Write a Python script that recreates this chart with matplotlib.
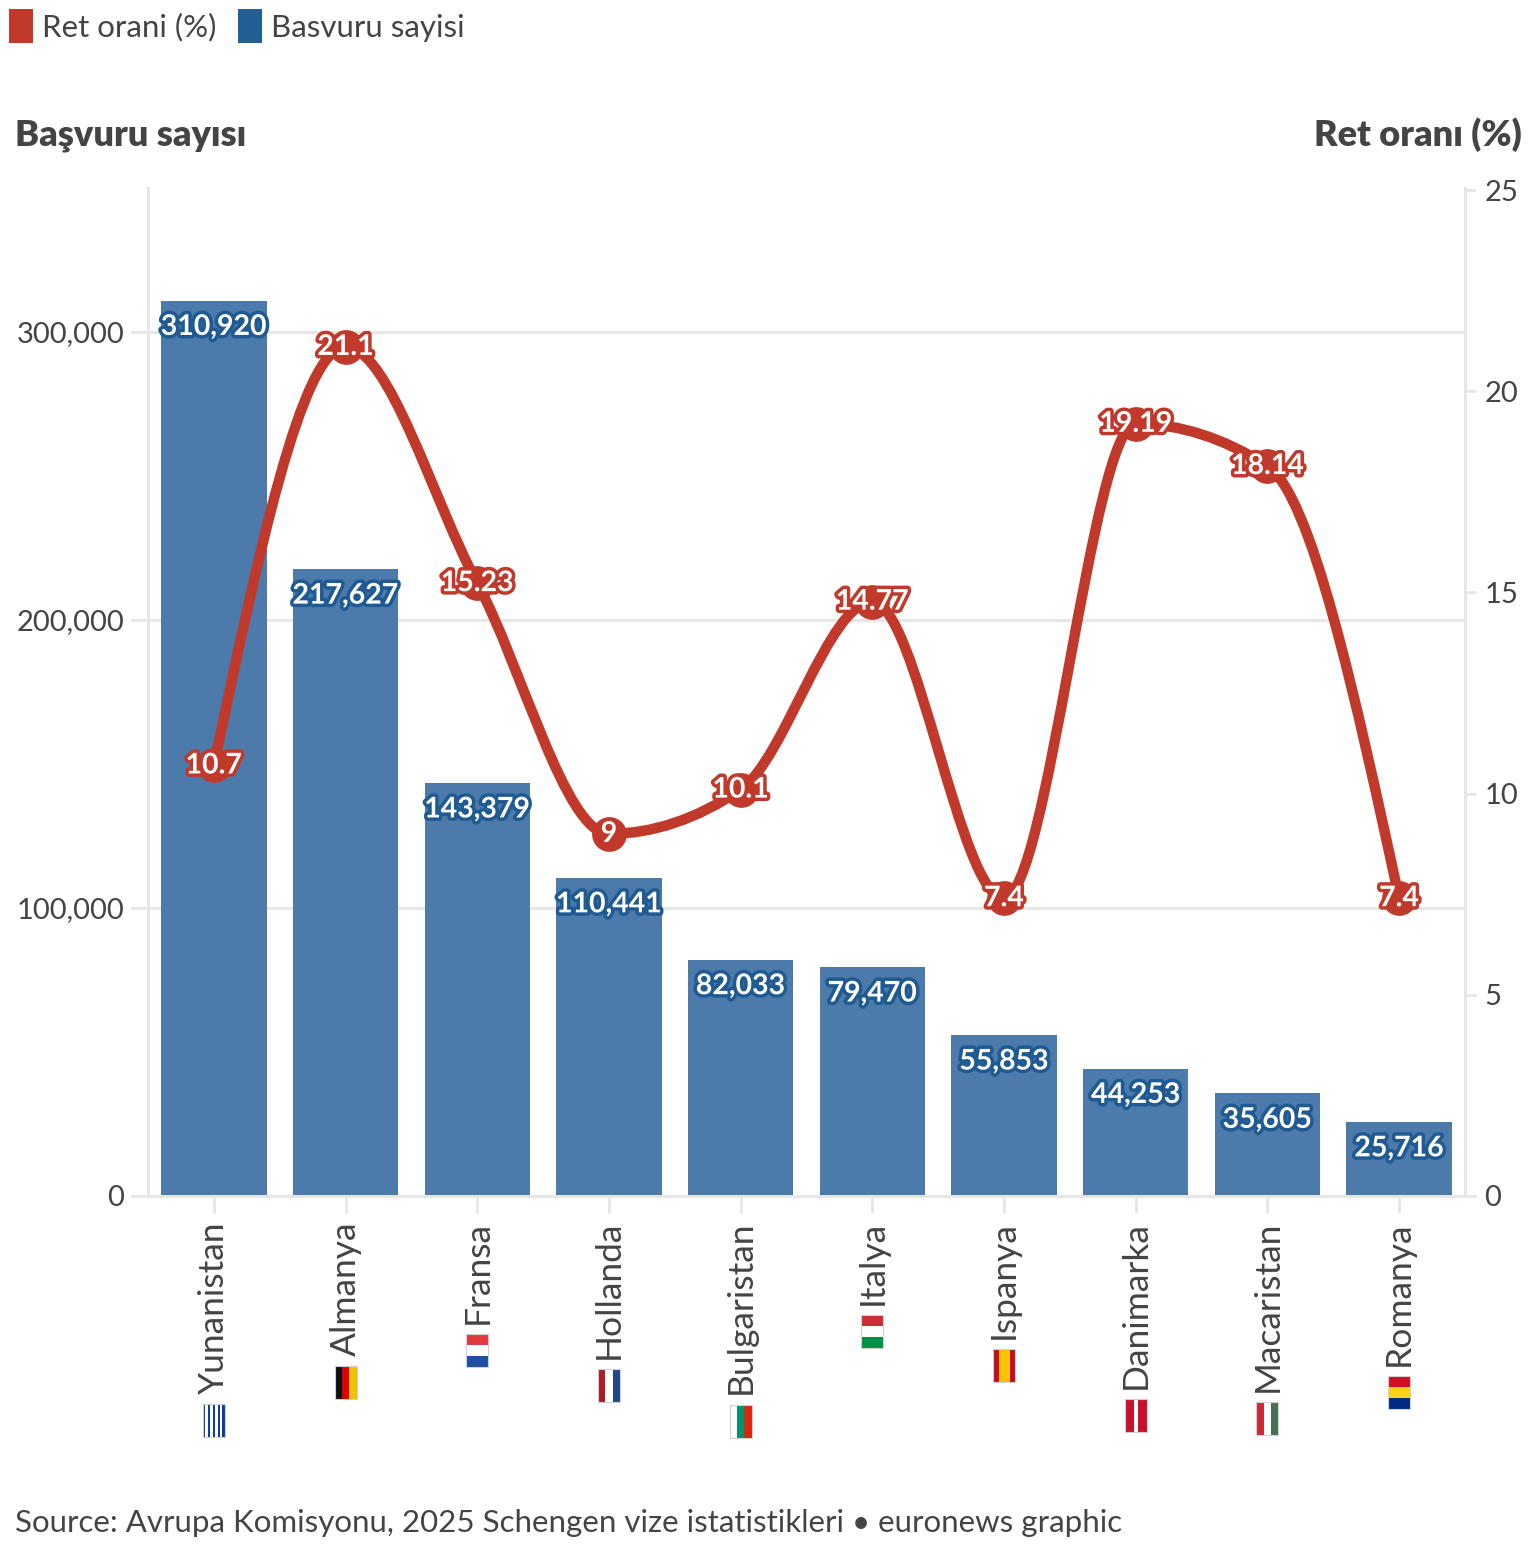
import numpy as np
import matplotlib
matplotlib.use("Agg")
import matplotlib.pyplot as plt
import matplotlib.patheffects as pe
from matplotlib.path import Path
from matplotlib.patches import PathPatch, Patch, Rectangle
from matplotlib.ticker import FuncFormatter, FixedLocator
from matplotlib.transforms import IdentityTransform

plt.rcParams['font.family'] = ['Lato', 'DejaVu Sans']

countries = ["Yunanistan", "Almanya", "Fransa", "Hollanda", "Bulgaristan",
             "Italya", "Ispanya", "Danimarka", "Macaristan", "Romanya"]
applications = [310920, 217627, 143379, 110441, 82033, 79470, 55853, 44253, 35605, 25716]
refusal_rate = [10.7, 21.1, 15.23, 9, 10.1, 14.77, 7.4, 19.19, 18.14, 7.4]

# flag stripes as seen in the rotated labels: ('v', cols left->right) or ('h', rows top->bottom)
flags = [
    ('v', ['#0d3b9e', 'white'] * 4 + ['#0d3b9e']),
    ('v', ['#111111', '#dd0000', '#f2c200']),
    ('h', ['#e0393e', 'white', '#1f4fa0']),
    ('v', ['#ad1d28', 'white', '#21468b']),
    ('v', ['white', '#00966e', '#d62612']),
    ('h', ['#ce2b37', 'white', '#009246']),
    ('v', ['#c60b1e', '#ffc400', '#ffc400', '#c60b1e']),
    ('v', ['#c8102e', '#c8102e', 'white', '#c8102e', '#c8102e']),
    ('v', ['#ce2939', 'white', '#477050']),
    ('h', ['#ce1126', '#fcd116', '#002b7f']),
]

bar_color = '#4c7aaa'
bar_edge = '#1f5a92'
red = '#c0392b'
grid_c = '#e6e6e6'
text_c = '#444444'

W, H = 1534, 1554
fig = plt.figure(figsize=(W / 100, H / 100), dpi=100)
ax = fig.add_axes([148 / W, 1 - 1196 / H, (1465 - 148) / W, (1196 - 188) / H])
ax2 = ax.twinx()

x = np.arange(len(countries))
ax.bar(x, applications, width=0.8, color=bar_color, zorder=2)
ax.set_xlim(-0.5, len(countries) - 0.5)
ax.set_ylim(0, 350000)
ax.yaxis.set_major_locator(FixedLocator([0, 100000, 200000, 300000]))
ax.yaxis.set_major_formatter(FuncFormatter(lambda v, p: f"{int(v):,}"))
ax.grid(axis='y', color=grid_c, linewidth=2, zorder=0)
ax.set_axisbelow(True)
ax.set_xticks(x)
ax.set_xticklabels(countries, rotation=90, fontsize=25.5, color=text_c)
ax.tick_params(axis='x', length=12, width=2, color=grid_c, pad=6)
ax.tick_params(axis='y', length=12, width=2, color=grid_c, labelsize=21, labelcolor=text_c, pad=5)
ax.spines['top'].set_visible(False)
ax2.spines['top'].set_visible(False)
for s in ['left', 'bottom', 'right']:
    for a in (ax, ax2):
        a.spines[s].set_color(grid_c)
        a.spines[s].set_linewidth(2)

for xi, v in zip(x, applications):
    ax.annotate(f"{v:,}", (xi, v), xytext=(0, -19), textcoords='offset points',
                ha='center', va='center', fontsize=20.5, fontweight='bold', color='white',
                zorder=5, path_effects=[pe.withStroke(linewidth=5, foreground=bar_edge)])

# smooth monotone line (bezier segments through the data points)
ys = np.array(refusal_rate, dtype=float)
xs = x.astype(float)
n = len(xs)
sl = np.diff(ys) / np.diff(xs)
t = np.zeros(n)
for i in range(1, n - 1):
    s0, s1 = sl[i - 1], sl[i]
    p = (s0 + s1) / 2
    t[i] = (np.sign(s0) + np.sign(s1)) * min(abs(s0), abs(s1), 0.5 * abs(p))
t[0] = (3 * sl[0] - t[1]) / 2
t[-1] = (3 * sl[-1] - t[-2]) / 2
verts = [(xs[0], ys[0])]
codes = [Path.MOVETO]
for i in range(n - 1):
    h = xs[i + 1] - xs[i]
    verts += [(xs[i] + h / 3, ys[i] + h / 3 * t[i]),
              (xs[i + 1] - h / 3, ys[i + 1] - h / 3 * t[i + 1]),
              (xs[i + 1], ys[i + 1])]
    codes += [Path.CURVE4] * 3
ax2.add_patch(PathPatch(Path(verts, codes), facecolor='none', edgecolor=red,
                        linewidth=7.5, capstyle='round', zorder=3))
ax2.plot(xs, ys, 'o', color=red, markersize=24, zorder=4)
for xi, v in zip(xs, ys):
    ax2.text(xi, v, f"{v:g}", ha='center', va='center', fontsize=20.5, fontweight='bold',
             color='white', zorder=6,
             path_effects=[pe.withStroke(linewidth=5, foreground=red)])
ax2.set_ylim(0, 25.05)
ax2.set_yticks([0, 5, 10, 15, 20, 25])
ax2.tick_params(axis='y', length=8, width=2, color=grid_c, labelsize=21, labelcolor=text_c, pad=6)

fig.text(15 / W, 1 - 135 / H, "Başvuru sayısı", fontsize=26, fontweight='heavy',
         color=text_c, ha='left', va='center')
fig.text(1522 / W, 1 - 135 / H, "Ret oranı (%)", fontsize=26, fontweight='heavy',
         color=text_c, ha='right', va='center')
fig.text(15 / W, 1 - 1523 / H,
         "Source: Avrupa Komisyonu, 2025 Schengen vize istatistikleri • euronews graphic",
         fontsize=22.5, color=text_c, ha='left', va='center')

handles = [Patch(facecolor=red, label="Ret orani (%)"),
           Patch(facecolor='#225f94', label="Basvuru sayisi")]
fig.legend(handles=handles, loc='upper left', bbox_to_anchor=(0.0, 1.0), ncol=2,
           frameon=False, fontsize=22.5, handlelength=0.75, handleheight=1.3,
           handletextpad=0.3, columnspacing=0.7, labelcolor=text_c, borderaxespad=0.0,
           borderpad=0.3)

# small flags under each rotated country label
fig.canvas.draw()
renderer = fig.canvas.get_renderer()
fw, fh = 22, 33
for lab, (orient, cols) in zip(ax.get_xticklabels(), flags):
    bb = lab.get_window_extent(renderer)
    cx = (bb.x0 + bb.x1) / 2
    top = bb.y0 - 10
    k = len(cols)
    for j, c in enumerate(cols):
        if orient == 'v':
            r = Rectangle((cx - fw / 2 + j * fw / k, top - fh), fw / k, fh,
                          facecolor=c, edgecolor='none', transform=IdentityTransform())
        else:
            r = Rectangle((cx - fw / 2, top - (j + 1) * fh / k), fw, fh / k,
                          facecolor=c, edgecolor='none', transform=IdentityTransform())
        fig.add_artist(r)
    fig.add_artist(Rectangle((cx - fw / 2, top - fh), fw, fh, facecolor='none',
                             edgecolor='#d0d0d0', linewidth=0.8, transform=IdentityTransform()))

fig.savefig("out.png", dpi=100, facecolor='white')
